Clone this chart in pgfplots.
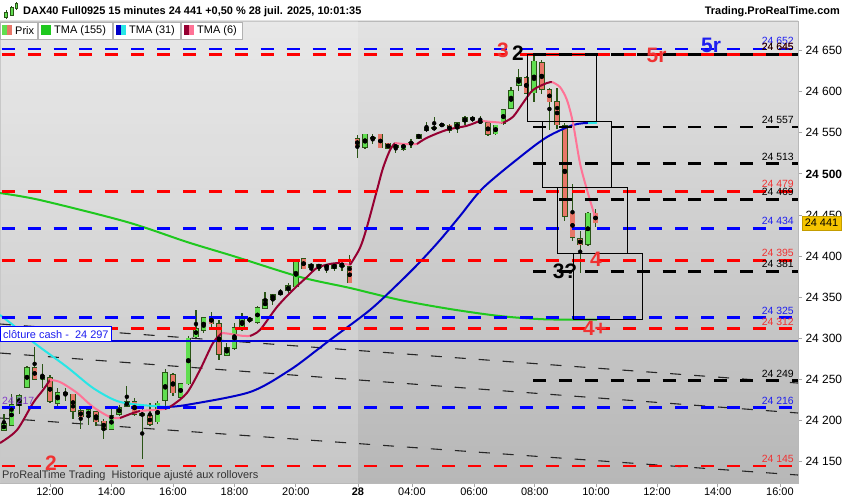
\documentclass[border=0pt]{standalone}
\usepackage{pgfplots}
\pgfplotsset{compat=1.18}
\usepackage{pgfplotstable}
\usepackage{fontspec}
\setmainfont{Liberation Sans}
\definecolor{cgreen}{RGB}{96,222,80}
\definecolor{cred}{RGB}{232,118,104}
\definecolor{cedge}{RGB}{42,84,22}
\definecolor{tmagreen}{RGB}{30,200,30}
\definecolor{tmablue}{RGB}{0,0,200}
\definecolor{tmacyan}{RGB}{40,230,230}
\definecolor{tmadark}{RGB}{150,0,50}
\definecolor{tmapink}{RGB}{255,115,150}
\definecolor{lred}{RGB}{255,0,0}
\definecolor{lblue}{RGB}{0,0,255}
\definecolor{tred}{RGB}{240,50,50}
\definecolor{tblue}{RGB}{30,30,240}
\definecolor{tpurple}{RGB}{130,60,200}
\definecolor{bgtop}{RGB}{226,226,226}
\definecolor{bgbot}{RGB}{183,183,183}
\definecolor{gold}{RGB}{245,196,0}

\pgfplotstableread{
t o h l c
-6 24189 24208 24188 24196
-5 24195 24233 24194 24219
-4 24219 24233 24208 24230
-3 24241 24266 24240 24264
-1 24250 24269 24240 24255
1 24221 24240 24218 24234
2 24232 24240 24224 24234
5 24206 24216 24195 24213
8 24190 24218 24190 24206
9 24208 24219 24206 24216
10 24218 24242 24216 24223
14 24199 24224 24196 24221
15 24225 24263 24218 24258
17 24229 24246 24227 24245
18 24245 24303 24244 24300
19 24302 24335 24300 24312
20 24310 24325 24306 24325
23 24280 24294 24279 24289
24 24288 24319 24286 24313
25 24311 24331 24309 24325
27 24320 24339 24318 24337
28 24337 24357 24336 24347
29 24348 24354 24341 24353
30 24354 24360 24353 24356
31 24358 24367 24353 24364
32 24363 24397 24362 24393
34 24387 24390 24380 24390
36 24387 24390 24379 24388
37 24385 24392 24382 24391
41 24533 24549 24530 24548
42 24543 24548 24536 24544
45 24533 24537 24525 24534
46 24530 24538 24528 24537
47 24537 24542 24532 24538
48 24544 24549 24542 24548
49 24553 24563 24551 24556
50 24555 24569 24554 24556
51 24559 24561 24558 24560
53 24556 24563 24550 24562
54 24564 24570 24560 24568
55 24566 24570 24563 24568
56 24563 24570 24562 24564
58 24549 24560 24547 24559
59 24562 24579 24560 24578
60 24580 24606 24579 24601
61 24608 24628 24601 24617
63 24599 24644 24587 24637
70 24415 24454 24412 24452
}\greenc

\pgfplotstableread{
t o h l c
-2 24264 24289 24249 24251
0 24252 24255 24222 24224
3 24232 24233 24202 24212
4 24212 24215 24190 24205
6 24211 24212 24194 24199
7 24199 24202 24178 24190
11 24223 24227 24206 24208
12 24208 24215 24154 24207
13 24206 24221 24194 24196
16 24256 24258 24230 24234
21 24326 24332 24313 24318
22 24318 24322 24274 24281
26 24324 24326 24319 24322
33 24397 24398 24384 24385
35 24390 24391 24382 24386
38 24391 24394 24382 24388
39 24387 24401 24368 24368
40 24543 24547 24519 24533
43 24548 24549 24531 24532
44 24537 24538 24530 24531
52 24559 24561 24550 24553
57 24562 24563 24546 24548
62 24617 24619 24597 24598
64 24635 24639 24597 24603
65 24602 24605 24553 24588
66 24588 24605 24555 24560
67 24558 24562 24443 24449
68 24452 24488 24419 24423
69 24421 24431 24380 24414
71 24452 24457 24436 24441
}\redc

\pgfplotsset{
  wick/.style={only marks, mark=none, forget plot,
    error bars/.cd, y dir=both, y explicit, error mark=none,
    error bar style={draw=cedge, line width=1.3bp}},
  body/.style 2 args={only marks, mark=none, forget plot,
    error bars/.cd, y dir=both, y explicit, error mark=none,
    error bar style={draw=#1, line width=#2}},
  hline/.style={line width=2.7bp, dash pattern=on 13bp off 12.9bp, dash phase=24.2bp, forget plot},
  bline/.style={black, line width=2.7bp, dash pattern=on 13bp off 12.9bp, forget plot},
  diag/.style={black!85, line width=1.1bp, dash pattern=on 11bp off 13bp, forget plot},
  boxl/.style={black, line width=1bp, forget plot},
}

\newcommand{\fs}[1]{\fontsize{#1}{#1}\selectfont}

\begin{document}
\begin{tikzpicture}[x=1bp,y=1bp]
\fill[white] (0,0) rectangle (850,500);
\begin{axis}[
  at={(0bp,17bp)}, anchor=south west,
  scale only axis, width=798bp, height=462bp,
  xmin=-6.507, xmax=97.35, ymin=24124.2, ymax=24685.9,
  axis line style={draw=gray!55, line width=0.8bp},
  axis background/.style={top color=bgtop, bottom color=bgbot},
  xtick={0,8,16,24,32,40.08,47.1,55.18,63.1,71.06,79,86.9,95},
  xticklabels={12:00,14:00,16:00,18:00,20:00,\textbf{28},04:00,06:00,08:00,10:00,12:00,14:00,16:00},
  ytick={24150,24200,24250,24300,24350,24400,24450,24500,24550,24600,24650},
  yticklabels={24 150,24 200,24 250,24 300,24 350,24 400,24 450,\textbf{24 500},24 550,24 600,24 650},
  ytick pos=right, xtick pos=bottom,
  tick align=outside, major tick length=4bp,
  tick style={draw=gray!70, line width=0.8bp},
  yticklabel style={font=\fs{12}},
  xticklabel style={font=\fs{11}, inner sep=1bp},
  clip=true,
]
\fill[white, opacity=0.22] (axis cs:-6.507,24124.2) rectangle (axis cs:40.05,24685.9);

\addplot[diag] coordinates {(-6.507,24317.5) (97.35,24245.7)};
\addplot[diag] coordinates {(-6.507,24282.2) (97.35,24209.3)};
\addplot[diag] coordinates {(-6.507,24203.2) (97.35,24133.9)};

\addplot[wick] table[x=t, y expr={(\thisrow{h}+\thisrow{l})/2}, y error expr={(\thisrow{h}-\thisrow{l})/2}] {\greenc};
\addplot[wick] table[x=t, y expr={(\thisrow{h}+\thisrow{l})/2}, y error expr={(\thisrow{h}-\thisrow{l})/2}] {\redc};
\addplot[body={cedge}{5.6bp}] table[x=t, y expr={(\thisrow{o}+\thisrow{c})/2}, y error expr={abs(\thisrow{c}-\thisrow{o})/2+0.9}] {\greenc};
\addplot[body={cgreen}{4.1bp}] table[x=t, y expr={(\thisrow{o}+\thisrow{c})/2}, y error expr={abs(\thisrow{c}-\thisrow{o})/2}] {\greenc};
\addplot[body={cedge}{5.6bp}] table[x=t, y expr={(\thisrow{o}+\thisrow{c})/2}, y error expr={abs(\thisrow{c}-\thisrow{o})/2+0.9}] {\redc};
\addplot[body={cred}{4.1bp}] table[x=t, y expr={(\thisrow{o}+\thisrow{c})/2}, y error expr={abs(\thisrow{c}-\thisrow{o})/2}] {\redc};

\addplot[tmagreen, line width=2bp, smooth, forget plot] coordinates {(-6.51,24476.7) (-1.30,24468.2) (10.02,24441.5) (17.83,24417.2) (23.82,24400.2) (32.54,24374.7) (39.04,24361.3) (45.55,24346.7) (52.06,24335.7) (58.56,24327.2) (64.42,24323.2) (71.19,24322.9)};
\addplot[tmacyan, line width=2bp, smooth, forget plot] coordinates {(-6.51,24328.4) (-4.82,24316.3) (-2.21,24295.6) (2.21,24265.2) (5.60,24239.7) (8.72,24223.9) (11.71,24219.2) (15.23,24216.7)};
\addplot[tmablue, line width=2bp, smooth, forget plot] coordinates {(15.23,24216.7) (17.83,24219.2) (26.03,24234.8) (31.23,24261.6) (34.75,24285.9) (36.44,24298.1) (41.65,24334.6) (45.55,24368.6) (48.15,24392.9) (50.76,24419.6) (53.36,24448.8) (56.35,24482.8) (61.17,24520.5) (64.68,24544.8) (68.06,24559.4) (70.02,24561.9)};
\addplot[tmacyan, line width=2bp, forget plot] coordinates {(70.02,24561.9) (71.19,24562.2)};
\addplot[tmadark, line width=2bp, smooth, forget plot] coordinates {(-6.51,24172.8) (-4.30,24188.6) (-2.21,24221.4) (-0.91,24237.2) (0,24249.4)};
\addplot[tmapink, line width=2bp, smooth, forget plot] coordinates {(0,24249.4) (1.30,24247.0) (3.51,24233.8) (5.60,24216.7) (7.81,24204.4) (9.11,24203.2)};
\addplot[tmadark, line width=2bp, smooth, forget plot] coordinates {(9.11,24203.2) (10.80,24209.3) (11.71,24211.8)};
\addplot[tmapink, line width=2bp, smooth, forget plot] coordinates {(11.71,24211.8) (13.5,24213.0) (14.97,24214.2)};
\addplot[tmadark, line width=2bp, smooth, forget plot] coordinates {(14.97,24214.2) (16.01,24219.2) (17.83,24233.8) (19.52,24261.7) (21.21,24294.4) (22.38,24306.6)};
\addplot[tmapink, line width=2bp, smooth, forget plot] coordinates {(22.38,24306.6) (23.43,24305.5) (25.12,24303.0) (26.03,24303.0)};
\addplot[tmadark, line width=2bp, smooth, forget plot] coordinates {(26.03,24303.0) (27.33,24310.3) (29.54,24338.2) (31.62,24358.9) (33.45,24374.7) (34.75,24385.7) (36.44,24390.5) (37.74,24391.8)};
\addplot[tmapink, line width=2bp, smooth, forget plot] coordinates {(37.74,24391.8) (39.04,24389.3)};
\addplot[tmadark, line width=2bp, smooth, forget plot] coordinates {(39.04,24389.3) (40.34,24409.9) (41.25,24435.5) (42.56,24480.5) (43.34,24507.1) (44.25,24529.0) (44.90,24537.5)};
\addplot[tmapink, line width=2bp, smooth, forget plot] coordinates {(44.90,24537.5) (46.20,24536.3) (47.76,24536.3)};
\addplot[tmadark, line width=2bp, smooth, forget plot] coordinates {(47.76,24536.3) (49.06,24543.9) (51.67,24553.6) (54.27,24558.5) (55.96,24564.6)};
\addplot[tmapink, line width=2bp, smooth, forget plot] coordinates {(55.96,24564.6) (57.26,24563.4) (58.95,24562.1)};
\addplot[tmadark, line width=2bp, smooth, forget plot] coordinates {(58.95,24562.1) (60.26,24569.4) (61.56,24586.2) (62.86,24602.0) (64.68,24610.5) (65.33,24611.7)};
\addplot[tmapink, line width=2bp, smooth, forget plot] coordinates {(65.33,24611.7) (66.37,24605.6) (67.28,24589.8) (68.06,24562.1) (68.97,24513.2) (69.89,24480.5) (71.06,24443.9)};

\addplot[hline, lblue] coordinates {(-6.507,24652) (97.35,24652)};
\addplot[hline, lred] coordinates {(-6.507,24645) (97.35,24645)};
\addplot[bline] coordinates {(62.86,24645) (97.35,24645)};
\addplot[bline] coordinates {(62.86,24557) (97.35,24557)};
\addplot[bline] coordinates {(62.86,24513) (97.35,24513)};
\addplot[hline, lred] coordinates {(-6.507,24479) (97.35,24479)};
\addplot[bline] coordinates {(62.86,24469) (97.35,24469)};
\addplot[hline, lblue] coordinates {(-6.507,24434) (97.35,24434)};
\addplot[hline, lred] coordinates {(-6.507,24395) (97.35,24395)};
\addplot[bline] coordinates {(62.86,24381) (97.35,24381)};
\addplot[hline, lblue] coordinates {(-6.507,24325) (97.35,24325)};
\addplot[hline, lred] coordinates {(-6.507,24312) (97.35,24312)};
\addplot[lblue!85!black, line width=2bp, forget plot] coordinates {(-6.507,24297) (97.35,24297)};
\addplot[bline] coordinates {(62.86,24249) (97.35,24249)};
\addplot[hline, lblue] coordinates {(-6.507,24216) (97.35,24216)};
\addplot[hline, lred] coordinates {(-6.507,24145) (97.35,24145)};

\addplot[boxl] coordinates {(62.1,24644.9) (71.1,24644.9) (71.1,24564.3) (62.1,24564.3) (62.1,24644.9)};
\addplot[boxl] coordinates {(64.1,24564.3) (73.1,24564.3) (73.1,24483.7) (64.1,24483.7) (64.1,24564.3)};
\addplot[boxl] coordinates {(66.1,24483.7) (75.1,24483.7) (75.1,24403.4) (66.1,24403.4) (66.1,24483.7)};
\addplot[boxl] coordinates {(68.1,24403.4) (77.1,24403.4) (77.1,24323.2) (68.1,24323.2) (68.1,24403.4)};
\end{axis}

\begin{scope}[every node/.style={anchor=east, inner sep=0pt, font=\fs{10.5}}]
\node[text=tblue] at (794,459) {24 652};
\node[text=tred] at (794,453) {24 645};
\node[text=black] at (794,453) {24 645};
\node at (794,380) {24 557};
\node at (794,343.5) {24 513};
\node[text=tred] at (794,316) {24 479};
\node at (794,308) {24 469};
\node[text=tblue] at (794,279) {24 434};
\node[text=tred] at (794,247.5) {24 395};
\node at (794,236) {24 381};
\node[text=tblue] at (794,189) {24 325};
\node[text=tred] at (794,178.5) {24 312};
\node at (794,126) {24 249};
\node[text=tblue] at (794,99.5) {24 216};
\node[text=tred] at (794,41) {24 145};
\end{scope}

\begin{scope}[every node/.style={inner sep=0pt, font=\bfseries\fs{21}}]
\node[text=tred] at (503,450) {3};
\node[text=black] at (518,446.5) {2};
\node[text=tred] at (656.5,445) {5r};
\node[text=tblue] at (711,455) {5r};
\node[text=black] at (565,228.5) {3?};
\node[text=tred] at (596,240.5) {4};
\node[text=tred] at (595,171.5) {4+};
\node[text=tred] at (51,36.5) {2};
\end{scope}

\draw[lblue, fill=white, line width=1bp] (0.5,158) rectangle (111,173);
\node[anchor=west, inner sep=0pt, text=tblue, font=\fs{11}] at (3,165.5) {clôture cash -\ \ 24 297};
\node[anchor=west, inner sep=0pt, text=tpurple, font=\fs{10.5}] at (2,99.5) {24 217};

\node[anchor=west, inner sep=0pt, text=black!80, font=\fs{11}] at (2,24) {ProRealTime Trading\ \ Historique ajusté aux rollovers};

\draw[fill=gold, draw=gold!80!black, line width=0.6bp] (802,270) rectangle (841,284);
\node[inner sep=0pt, font=\fs{11}] at (821.5,277) {24 441};

\fill[white] (0,479.6) rectangle (850,500);
\node[anchor=west, inner sep=0pt, font=\bfseries\fs{11}] at (23,488) {DAX40 Full0925 15 minutes 24 441 +0,50 \% 28 juil. 2025, 10:01:35};
\node[anchor=east, inner sep=0pt, font=\bfseries\fs{11}] at (840,488) {Trading.ProRealTime.com};
\draw[cedge, line width=0.8bp] (6,481)--(6,490) (11.5,484)--(11.5,494) (16,490)--(16,498);
\filldraw[fill=cgreen, draw=cedge, line width=0.6bp] (4.5,483) rectangle (7.5,488);
\filldraw[fill=cgreen, draw=cedge, line width=0.6bp] (10,485) rectangle (13,493);
\filldraw[fill=cgreen, draw=cedge, line width=0.6bp] (14.8,492) rectangle (17.2,497);

\begin{scope}[draw=gray!60, line width=0.8bp]
\filldraw[fill=white] (0.4,461) rectangle (37,478);
\filldraw[fill=white] (38,461) rectangle (112,478);
\filldraw[fill=white] (113,461) rectangle (180,478);
\filldraw[fill=white] (181,461) rectangle (242,478);
\end{scope}
\fill[cgreen] (2,464.5) rectangle (7,474.5); \fill[cred] (7,464.5) rectangle (12,474.5);
\fill[tmagreen] (41,464.5) rectangle (51,474.5);
\fill[tmablue] (116,464.5) rectangle (121,474.5); \fill[tmacyan] (121,464.5) rectangle (126,474.5);
\fill[tmadark] (184,464.5) rectangle (189,474.5); \fill[tmapink] (189,464.5) rectangle (194,474.5);
\begin{scope}[every node/.style={anchor=west, inner sep=0pt, font=\fs{11}}]
\node at (15,469.5) {Prix};
\node at (54,469.5) {TMA (155)};
\node at (129,469.5) {TMA (31)};
\node at (197,469.5) {TMA (6)};
\end{scope}
\pgfresetboundingbox
\path[use as bounding box] (0,0) rectangle (850,500);
\end{tikzpicture}
\end{document}
